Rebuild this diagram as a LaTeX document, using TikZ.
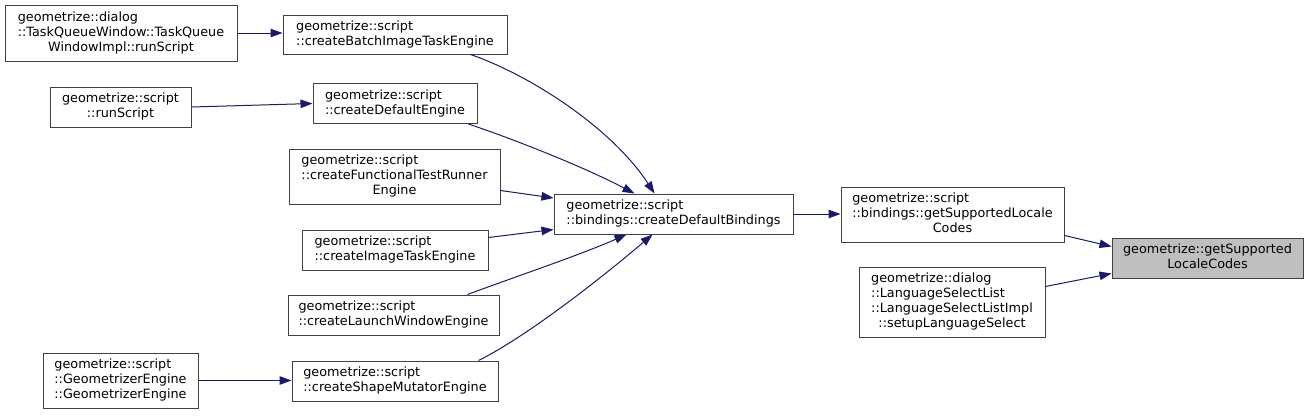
\documentclass[tikz,border=0pt]{standalone}
\usepackage{fontspec}
\setmainfont{DejaVu Sans}
\usetikzlibrary{calc,arrows.meta}
\definecolor{edgec}{HTML}{191970}
\definecolor{boxc}{HTML}{404040}
\definecolor{mainfill}{HTML}{BFBFBF}
\newcommand{\lastln}[1]{\multicolumn{1}{@{}c@{}}{#1}}
\newcommand{\lbl}[1]{\begin{tabular}{@{}l@{}}#1\end{tabular}}
\begin{document}
\begin{tikzpicture}[x=1pt,y=-1pt,
  box/.style={draw=boxc, line width=1pt, fill=white, inner sep=0pt, text=black,
    font=\fontsize{12.8}{15}\selectfont},
  edge/.style={draw=edgec, line width=1pt, -{Triangle[length=12pt,width=8.5pt]}}]
\useasboundingbox[fill=white] (0,0) rectangle (1308,415);

\node[box, minimum width=232pt, minimum height=56pt] (tq) at (121,33)
  {\lbl{geometrize::dialog\\::TaskQueueWindow::TaskQueue\\\lastln{WindowImpl::runScript}}};
\node[box, minimum width=224pt, minimum height=39pt] (batch) at (395,34.5)
  {\lbl{geometrize::script\\\lastln{::createBatchImageTaskEngine}}};
\node[box, minimum width=141pt, minimum height=40pt] (run) at (120.5,107)
  {\lbl{geometrize::script\\\lastln{::runScript}}};
\node[box, minimum width=164pt, minimum height=40pt] (defeng) at (395,103.5)
  {\lbl{geometrize::script\\\lastln{::createDefaultEngine}}};
\node[box, minimum width=211pt, minimum height=55pt] (func) at (394.5,176.5)
  {\lbl{geometrize::script\\::createFunctionalTestRunner\\\lastln{Engine}}};
\node[box, minimum width=186pt, minimum height=40pt] (img) at (395,250)
  {\lbl{geometrize::script\\\lastln{::createImageTaskEngine}}};
\node[box, minimum width=211pt, minimum height=40pt] (launch) at (393.5,315)
  {\lbl{geometrize::script\\\lastln{::createLaunchWindowEngine}}};
\node[box, minimum width=155pt, minimum height=55pt] (geo) at (120.5,380.5)
  {\lbl{geometrize::script\\::GeometrizerEngine\\\lastln{::GeometrizerEngine}}};
\node[box, minimum width=206pt, minimum height=40pt] (shape) at (395,381)
  {\lbl{geometrize::script\\\lastln{::createShapeMutatorEngine}}};
\node[box, minimum width=239pt, minimum height=40pt] (bind) at (673.5,214)
  {\lbl{geometrize::script\\\lastln{::bindings::createDefaultBindings}}};
\node[box, minimum width=223pt, minimum height=55pt] (getb) at (952.5,214.5)
  {\lbl{geometrize::script\\::bindings::getSupportedLocale\\\lastln{Codes}}};
\node[box, minimum width=186pt, minimum height=70pt] (lang) at (952,302)
  {\lbl{geometrize::dialog\\::LanguageSelectList\\::LanguageSelectListImpl\\\lastln{::setupLanguageSelect}}};
\node[box, fill=mainfill, minimum width=191pt, minimum height=40pt] (main) at (1207.5,258)
  {\lbl{geometrize::getSupported\\\lastln{LocaleCodes}}};

\draw[edge] (tq.east) -- (tq.east -| batch.west);
\draw[edge] (run.east) -- (defeng.west);
\draw[edge] (geo.east) -- (geo.east -| shape.west);
\draw[edge] ($(batch.south east)+(-37,0)$) .. controls (530,75) and (612,128) .. ($(bind.north west)+(101,0)$);
\draw[edge] ($(defeng.south east)+(-9,0)$) .. controls (510,138) and (580,165) .. ($(bind.north west)+(81,0)$);
\draw[edge] ($(func.south east)+(0,-14)$) -- ($(bind.west)+(0,-16)$);
\draw[edge] ($(img.north east)+(0,8)$) -- ($(bind.south west)+(0,-5)$);
\draw[edge] ($(launch.north east)+(-32,0)$) .. controls (520,275) and (580,255) .. ($(bind.south west)+(73,0)$);
\draw[edge] ($(shape.north east)+(-20,0)$) .. controls (528,336) and (605,275) .. ($(bind.south west)+(99,0)$);
\draw[edge] (bind.east) -- (bind.east -| getb.west);
\draw[edge] ($(getb.south east)+(0,-7)$) -- ($(main.north west)+(0,9)$);
\draw[edge] ($(lang.north east)+(0,20)$) -- ($(main.south west)+(0,-5)$);
\end{tikzpicture}
\end{document}
